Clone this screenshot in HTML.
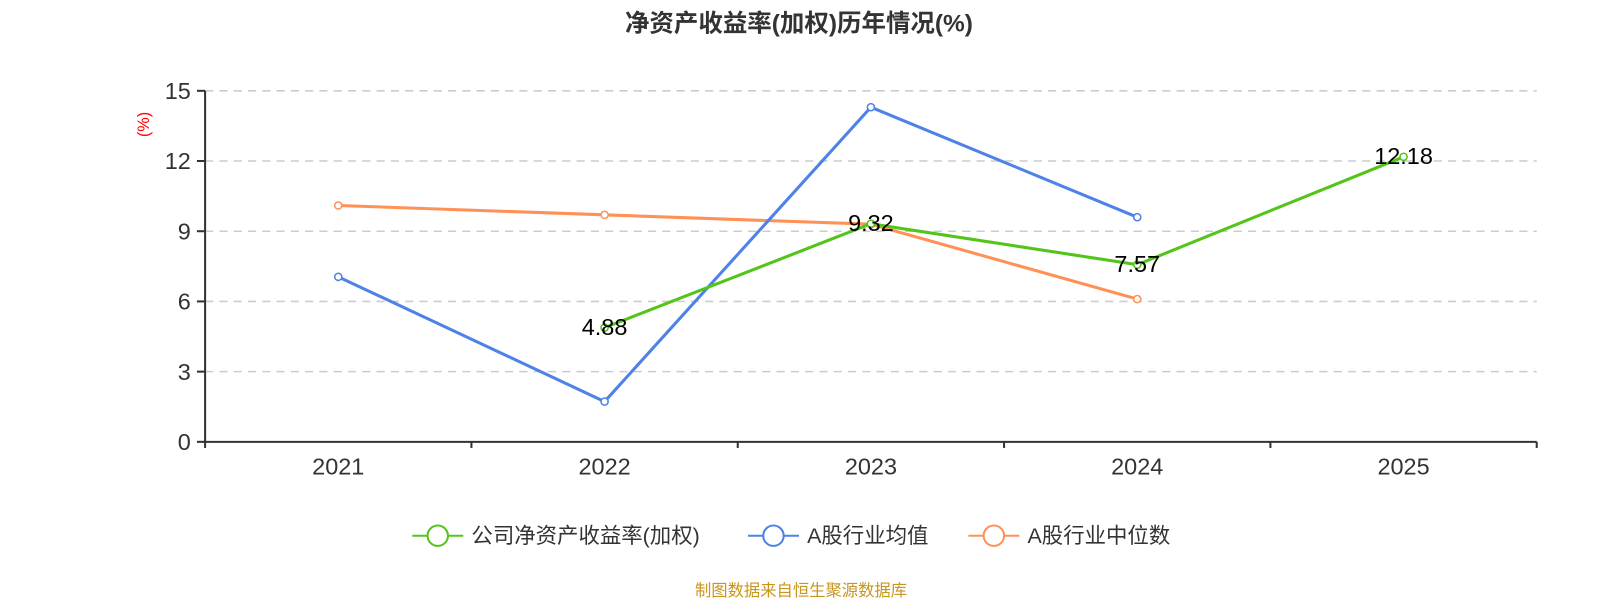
<!DOCTYPE html>
<html><head><meta charset="utf-8"><style>
body{margin:0;background:#fff;width:1600px;height:600px;overflow:hidden;font-family:"Liberation Sans","Noto Sans CJK SC",sans-serif;}
</style></head><body>
<svg id="chart" width="1600" height="600" xmlns="http://www.w3.org/2000/svg" font-family="Liberation Sans, Noto Sans CJK SC, sans-serif">
<g transform="scale(1.0204)">
<text x="783" y="31" text-anchor="middle" font-size="24" font-weight="bold" fill="#333">净资产收益率(加权)历年情况(%)</text>
<text transform="translate(146,122) rotate(-90)" text-anchor="middle" font-size="16" fill="#f00">(%)</text>
<g id="grid"></g><g id="axes"></g><g id="series"></g>
<g font-size="21" fill="#333">
<g><line x1="404" y1="525" x2="454" y2="525" stroke="#52c41a" stroke-width="2"/><circle cx="429" cy="525" r="10" fill="#fff" stroke="#52c41a" stroke-width="2"/><text x="462" y="532">公司净资产收益率(加权)</text></g>
<g><line x1="733" y1="525" x2="783" y2="525" stroke="#4e82e6" stroke-width="2"/><circle cx="758" cy="525" r="10" fill="#fff" stroke="#4e82e6" stroke-width="2"/><text x="791" y="532">A股行业均值</text></g>
<g><line x1="949" y1="525" x2="999" y2="525" stroke="#ff9157" stroke-width="2"/><circle cx="974" cy="525" r="10" fill="#fff" stroke="#ff9157" stroke-width="2"/><text x="1007" y="532">A股行业中位数</text></g>
</g>
<text x="785" y="584" text-anchor="middle" font-size="16" fill="#c8961e">制图数据来自恒生聚源数据库</text>
</g>
</svg>
<script>
const categories=["2021","2022","2023","2024","2025"];
const yTicks=[0,3,6,9,12,15];
const company=[null,4.88,9.32,7.57,12.18];
const companyLabels=[null,"4.88","9.32","7.57","12.18"];
const industryMean=[7.05,1.72,14.3,9.6,null];
const industryMedian=[10.1,9.7,9.3,6.1,null];
const NS="http://www.w3.org/2000/svg";
const L=201,R=1506,T=89,B=433,yMax=15;
const bw=(R-L)/categories.length;
const xs=i=>L+bw*(i+0.5);
const ys=v=>B-(v/yMax)*(B-T);
function mk(tag,attrs,parent){const e=document.createElementNS(NS,tag);for(const k in attrs)e.setAttribute(k,attrs[k]);parent.appendChild(e);return e;}
const grid=document.getElementById('grid'),axes=document.getElementById('axes'),ser=document.getElementById('series');
yTicks.forEach(t=>{const y=ys(t);
 if(t>0){const g=mk('line',{x1:L,x2:R,y1:y,y2:y,stroke:'#ccc','stroke-dasharray':'8,6','stroke-width':1.5},grid);
 
 }
 const tk=mk('line',{x1:L-8,x2:L,y1:y,y2:y,stroke:'#333','stroke-width':2},axes);
 
 
 const tx=mk('text',{x:L-14,y:y+8,'text-anchor':'end','font-size':23,fill:'#333'},axes);tx.textContent=t;
 
 
});
const ya=mk('line',{x1:L,x2:L,y1:T,y2:B,stroke:'#333','stroke-width':2},axes);


const xa=mk('line',{x1:L-2,x2:R,y1:B,y2:B,stroke:'#333','stroke-width':2},axes);


for(let i=0;i<=categories.length;i++){const x=L+bw*i;const t=mk('line',{x1:x,x2:x,y1:B,y2:B+6,stroke:'#333','stroke-width':2},axes);
 
 }
categories.forEach((c,i)=>{const t=mk('text',{x:xs(i),y:B+32,'text-anchor':'middle','font-size':23,fill:'#333'},axes);t.textContent=c;
 
 });
function line(vals,color,name,labels){
 const pts=[];vals.forEach((v,i)=>{if(v!=null)pts.push([xs(i),ys(v),i]);});
 const p=mk('polyline',{points:pts.map(p=>p[0]+','+p[1]).join(' '),fill:'none',stroke:color,'stroke-width':3},ser);
 
 
 pts.forEach(q=>{const c=mk('circle',{cx:q[0],cy:q[1],r:3.5,fill:'#fff',stroke:color,'stroke-width':1.5},ser);
  
  
  if(labels){const t=mk('text',{x:q[0],y:q[1]+7,'text-anchor':'middle','font-size':23,fill:'#000'},ser);t.textContent=labels[q[2]];
   
   }
 });
}
line(industryMedian,'#ff9157','industry-median');
line(industryMean,'#4e82e6','industry-mean');
line(company,'#52c41a','company',companyLabels);
</script>
</body></html>
